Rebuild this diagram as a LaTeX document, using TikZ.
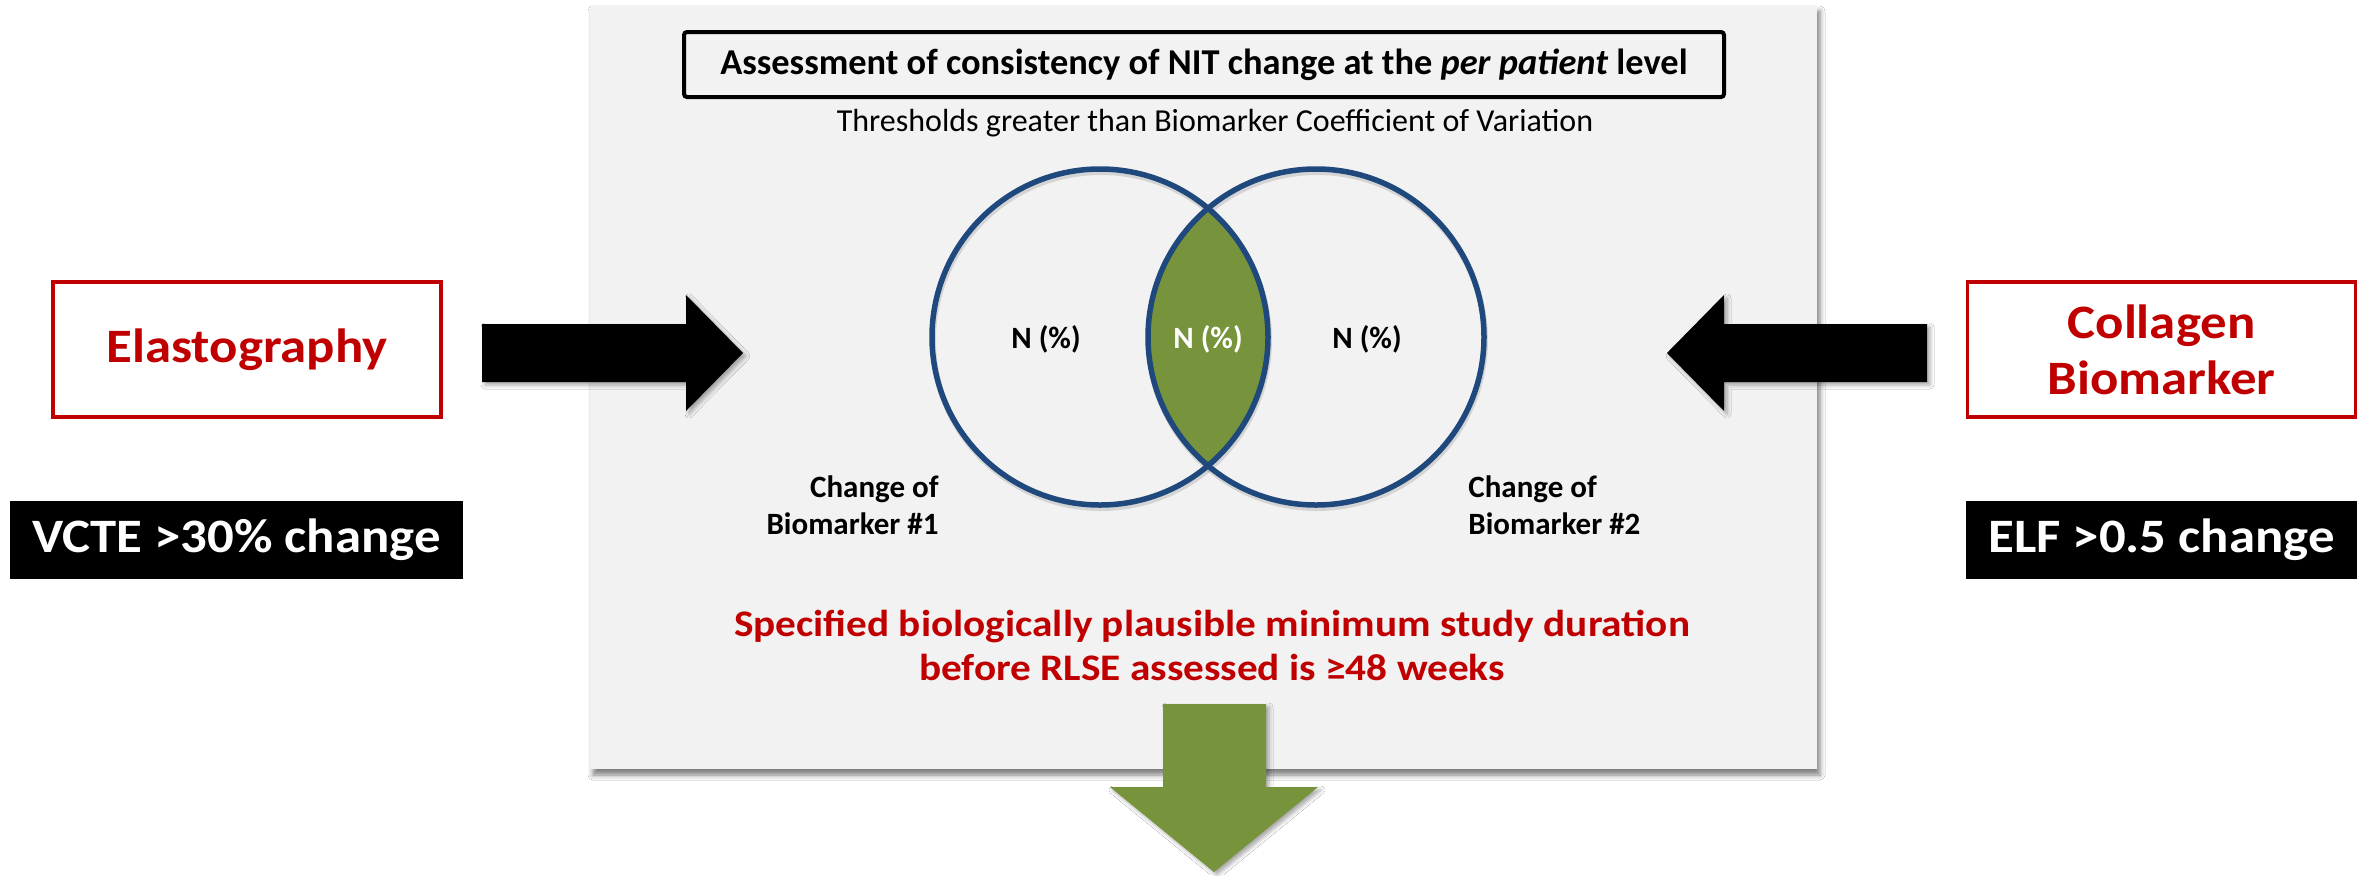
\documentclass[tikz,border=0pt]{standalone}
\usepackage{fontspec}
\setmainfont{Carlito}
\newfontfamily\widefont[FakeStretch=1.1]{Carlito}
\usetikzlibrary{shadows.blur}
\definecolor{panelgray}{HTML}{F2F2F2}
\definecolor{darkred}{HTML}{C00000}
\definecolor{vennblue}{HTML}{1F497D}
\definecolor{olivegreen}{HTML}{77933C}
\begin{document}
\begin{tikzpicture}[x=0.5pt,y=-0.5pt,
  panelbox/.style={fill=panelgray, blur shadow={shadow xshift=1.5pt, shadow yshift=-3pt, shadow blur radius=2.5pt, shadow opacity=50}},
  blockarrow/.style={blur shadow={shadow xshift=1.5pt, shadow yshift=-1.5pt, shadow blur radius=2pt, shadow opacity=35}},
  redbox/.style={draw=darkred, line width=1.75pt, fill=white, minimum width=194pt, minimum height=67.5pt, inner sep=0pt, text=darkred, align=center, font=\widefont\bfseries\fontsize{24pt}{28pt}\selectfont},
  blackbox/.style={fill=black, text=white, inner sep=0pt, minimum height=39pt, font=\widefont\bfseries\fontsize{24pt}{28pt}\selectfont},
  titlebox/.style={draw=black, line width=2pt, rounded corners=1.5pt, fill=panelgray, minimum width=520pt, minimum height=32.5pt, inner sep=0pt, font=\bfseries\fontsize{18.2pt}{22pt}\selectfont},
  subtitle/.style={inner sep=0pt, font=\fontsize{16pt}{19pt}\selectfont},
  venn/.style={draw=vennblue, line width=2.75pt},
  vennshadow/.style={draw=black, opacity=0.12, line width=3pt},
  countlabel/.style={inner sep=0pt, font=\bfseries\fontsize{15.5pt}{18.5pt}\selectfont},
  setlabel/.style={inner sep=0pt, font=\bfseries\fontsize{15.5pt}{18.5pt}\selectfont},
  redtext/.style={inner sep=0pt, text=darkred, align=center, font=\widefont\bfseries\fontsize{18.75pt}{22pt}\selectfont}
]
\useasboundingbox (0,0) rectangle (2371,875);
\fill[white] (0,0) rectangle (2371,875);

% central panel
\fill[panelbox] (590,5) rectangle (1817,769);

% title and subtitle
\node[titlebox] (title) at (1204,64.5) {Assessment of consistency of NIT change at the \textit{per patient} level};
\node[subtitle] (sub) at (1215,123) {Thresholds greater than Biomarker Coefficient of Variation};

% Venn diagram
\coordinate (cL) at (1100,337);
\coordinate (cR) at (1316,337);
\draw[vennshadow] (1101,340) circle (84pt);
\draw[vennshadow] (1317,340) circle (84pt);
\begin{scope}
  \clip (cL) circle (84pt);
  \fill[olivegreen] (cR) circle (84pt);
\end{scope}
\draw[venn] (cL) circle (84pt);
\draw[venn] (cR) circle (84pt);

\node[countlabel] (nL) at (1046,339) {N (\%)};
\node[countlabel, text=white] (nM) at (1208,339) {N (\%)};
\node[countlabel] (nR) at (1367,339) {N (\%)};

\node[setlabel, anchor=east, align=right] (setA) at (939,505.5) {Change of\\Biomarker \#1};
\node[setlabel, anchor=west, align=left] (setB) at (1468,505.5) {Change of\\Biomarker \#2};

% side boxes
\node[redbox] (elasto) at (247,349.5) {Elastography};
\node[redbox] (collagen) at (2161.5,349.5) {Collagen\\Biomarker};
\node[blackbox, minimum width=226.5pt] (vcte) at (236.5,540) {VCTE >30\% change};
\node[blackbox, minimum width=195.5pt] (elf) at (2161.5,540) {ELF >0.5 change};

% block arrows
\fill[black, blockarrow] (482,324) -- (686,324) -- (686,295) -- (743,353) -- (686,411) -- (686,382) -- (482,382) -- cycle;
\fill[black, blockarrow] (1927,324) -- (1724,324) -- (1724,295) -- (1667,353) -- (1724,411) -- (1724,382) -- (1927,382) -- cycle;

% bottom text
\node[redtext] (duration) at (1212,645) {Specified biologically plausible minimum study duration\\before RLSE assessed is ≥48 weeks};

% green arrow
\fill[olivegreen, blockarrow] (1163,704) -- (1266,704) -- (1266,787) -- (1318,787) -- (1214,872) -- (1110,787) -- (1163,787) -- cycle;
\end{tikzpicture}
\end{document}
